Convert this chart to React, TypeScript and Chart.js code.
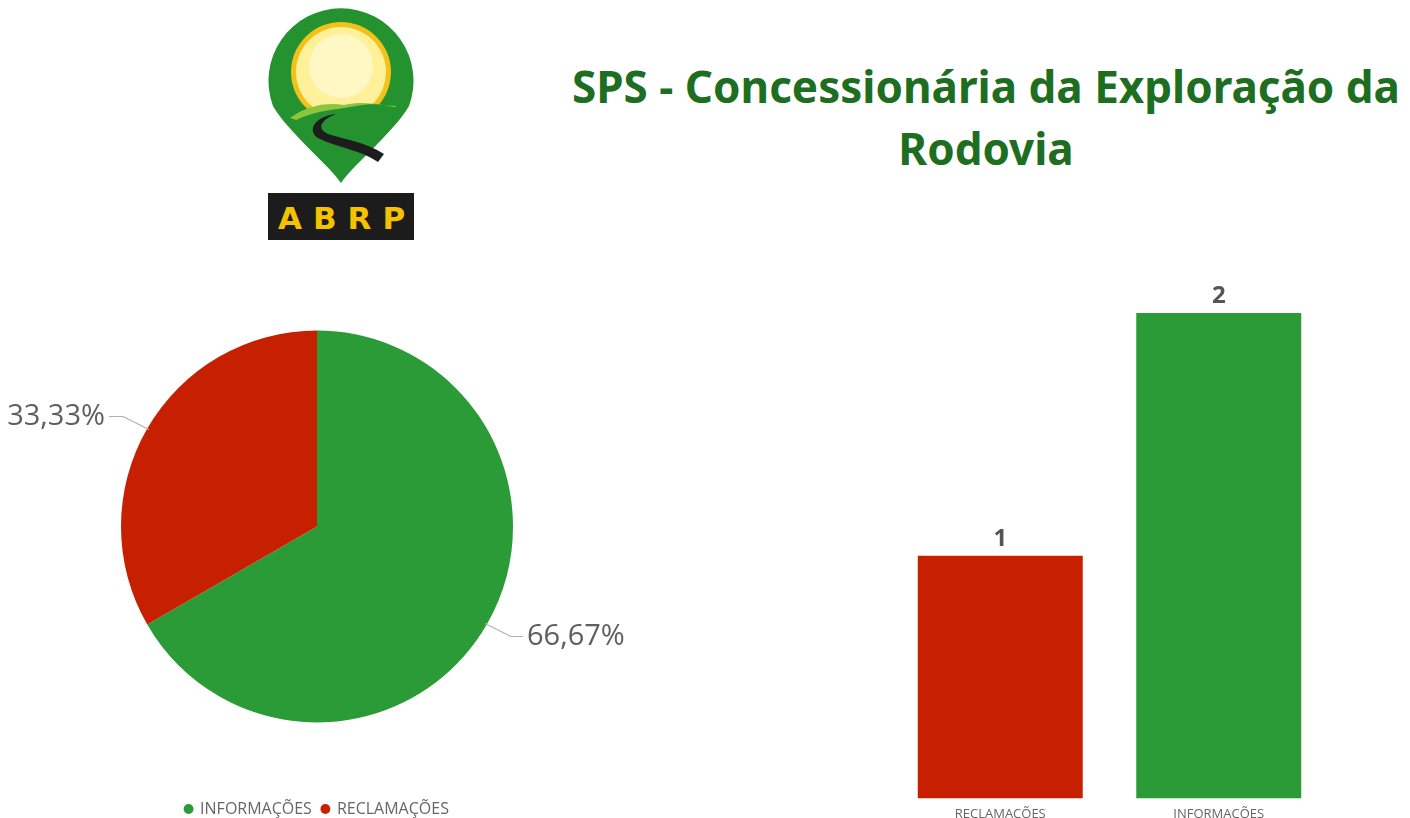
import React, { useEffect, useRef } from "react";
import { Chart, registerables } from "chart.js";

Chart.register(...registerables);

const pieCategories = ["INFORMAÇÕES", "RECLAMAÇÕES"];
const pieValues = [2, 1];
const pieColors = ["#2a9b37", "#c62000"];

const barCategories = ["RECLAMAÇÕES", "INFORMAÇÕES"];
const barValues = [1, 2];
const barColors = ["#c62000", "#2a9b37"];

const titleLines = ["SPS - Concessionária da Exploração da", "Rodovia"];

const FONT = "'Open Sans', 'Noto Sans', sans-serif";

const pieLabelPlugin = {
  id: "pieLabels",
  afterDraw(chart: any) {
    const ctx = chart.ctx;
    const meta = chart.getDatasetMeta(0);
    const data = chart.data.datasets[0].data as number[];
    const total = data.reduce((a, b) => a + b, 0);
    meta.data.forEach((arc: any, i: number) => {
      const { x, y, startAngle, endAngle, outerRadius } = arc.getProps(
        ["x", "y", "startAngle", "endAngle", "outerRadius"],
        true
      );
      const mid = (startAngle + endAngle) / 2;
      const cos = Math.cos(mid);
      const sin = Math.sin(mid);
      const p0x = x + cos * (outerRadius - 2);
      const p0y = y + sin * (outerRadius - 2);
      const p1x = x + cos * (outerRadius + 28);
      const p1y = y + sin * (outerRadius + 24);
      const right = cos >= 0;
      const p2x = p1x + (right ? 12 : -14);
      const pct = ((data[i] / total) * 100).toFixed(2).replace(".", ",") + "%";
      ctx.save();
      ctx.strokeStyle = "#b0b0b0";
      ctx.lineWidth = 1.2;
      ctx.beginPath();
      ctx.moveTo(p0x, p0y);
      ctx.lineTo(p1x, p1y);
      ctx.lineTo(p2x, p1y);
      ctx.stroke();
      ctx.fillStyle = "#5f5f5f";
      ctx.font = `400 29px ${FONT}`;
      ctx.textBaseline = "middle";
      ctx.textAlign = right ? "left" : "right";
      ctx.fillText(pct, p2x + (right ? 4 : -4), p1y);
      ctx.restore();
    });
  },
};

const barLabelPlugin = {
  id: "barLabels",
  afterDatasetsDraw(chart: any) {
    const ctx = chart.ctx;
    const meta = chart.getDatasetMeta(0);
    const data = chart.data.datasets[0].data as number[];
    ctx.save();
    ctx.fillStyle = "#555555";
    ctx.font = `700 24px ${FONT}`;
    ctx.textAlign = "center";
    ctx.textBaseline = "middle";
    meta.data.forEach((bar: any, i: number) => {
      ctx.fillText(String(data[i]), bar.x, bar.y - 17);
    });
    ctx.restore();
  },
};

function PieChart() {
  const ref = useRef<HTMLCanvasElement>(null);
  useEffect(() => {
    const chart = new Chart(ref.current!, {
      type: "pie",
      data: {
        labels: pieCategories,
        datasets: [
          {
            data: pieValues,
            backgroundColor: pieColors,
            borderWidth: 0,
          },
        ],
      },
      options: {
        animation: false,
        responsive: false,
        layout: { padding: { top: 12, bottom: 0, left: 121, right: 121 } },
        plugins: {
          tooltip: { enabled: false },
          legend: {
            position: "bottom",
            labels: {
              usePointStyle: true,
              pointStyle: "circle",
              boxWidth: 7,
              boxHeight: 7,
              padding: 10,
              color: "#666666",
              font: { family: FONT, size: 16 },
            },
          },
        },
      },
      plugins: [pieLabelPlugin],
    } as any);
    return () => chart.destroy();
  }, []);
  return (
    <canvas
      ref={ref}
      width={634}
      height={577}
      style={{ position: "absolute", left: 0, top: 250, width: 634, height: 577 }}
    />
  );
}

function BarChart() {
  const ref = useRef<HTMLCanvasElement>(null);
  useEffect(() => {
    const chart = new Chart(ref.current!, {
      type: "bar",
      data: {
        labels: barCategories,
        datasets: [
          {
            data: barValues,
            backgroundColor: barColors,
            borderWidth: 0,
            barPercentage: 0.755,
            categoryPercentage: 1,
          },
        ],
      },
      options: {
        animation: false,
        responsive: false,
        layout: { padding: { top: 53, left: 11, right: 12, bottom: 0 } },
        plugins: { legend: { display: false }, tooltip: { enabled: false } },
        scales: {
          x: {
            grid: { display: false },
            border: { display: false },
            ticks: {
              color: "#666666",
              padding: 0,
              font: { family: FONT, size: 13 },
            },
          },
          y: { display: false, min: 0, max: 2 },
        },
      },
      plugins: [barLabelPlugin],
    } as any);
    return () => chart.destroy();
  }, []);
  return (
    <canvas
      ref={ref}
      width={460}
      height={562}
      style={{ position: "absolute", left: 880, top: 260, width: 460, height: 562 }}
    />
  );
}

function Logo() {
  return (
    <svg
      width={150}
      height={240}
      viewBox="0 0 150 240"
      style={{ position: "absolute", left: 266, top: 2 }}
    >
      <path
        d="M75 181 C62 162 22 130 7 104 A72.5 72.5 0 1 1 143 104 C128 130 88 162 75 181 Z"
        fill="#23922f"
      />
      <circle cx={75} cy={70} r={50} fill="#f2c21a" />
      <circle cx={75} cy={70} r={45} fill="#fff09a" />
      <circle cx={75} cy={64} r={32} fill="#fff7c4" />
      <path
        d="M24 116 C40 104 60 100 78 103 C100 98 115 104 130 104 C118 120 100 124 80 122 C60 124 40 122 24 116 Z"
        fill="#8bc53f"
      />
      <path
        d="M30 118 C50 108 70 108 90 104 C110 100 122 104 132 106 C120 128 90 134 60 130 C45 128 35 124 30 118 Z"
        fill="#23922f"
      />
      <path
        d="M70 112 C55 118 50 126 62 132 C80 138 100 140 118 152 L112 160 C95 148 72 146 52 136 C40 128 50 114 70 112 Z"
        fill="#1d1d1d"
      />
      <rect x={2} y={191} width={146} height={47} fill="#1c1c1c" />
      <text
        x={81}
        y={227}
        textAnchor="middle"
        fill="#f5c200"
        fontFamily="'DejaVu Sans', sans-serif"
        fontWeight={700}
        fontSize={31}
        letterSpacing={11}
      >
        ABRP
      </text>
    </svg>
  );
}

export default function App() {
  return (
    <div
      style={{
        position: "fixed",
        left: 0,
        top: 0,
        width: 1410,
        height: 818,
        background: "#ffffff",
        overflow: "hidden",
        fontFamily: FONT,
      }}
    >
      <Logo />
      <div
        style={{
          position: "absolute",
          left: 560,
          top: 55,
          width: 852,
          textAlign: "center",
          color: "#1e6e22",
          fontWeight: 700,
          fontSize: 44,
          lineHeight: "62px",
          whiteSpace: "nowrap",
          fontFamily: "'Noto Sans', 'Open Sans', sans-serif",
        }}
      >
        {titleLines.map((t, i) => (
          <div key={i}>{t}</div>
        ))}
      </div>
      <PieChart />
      <BarChart />
    </div>
  );
}
